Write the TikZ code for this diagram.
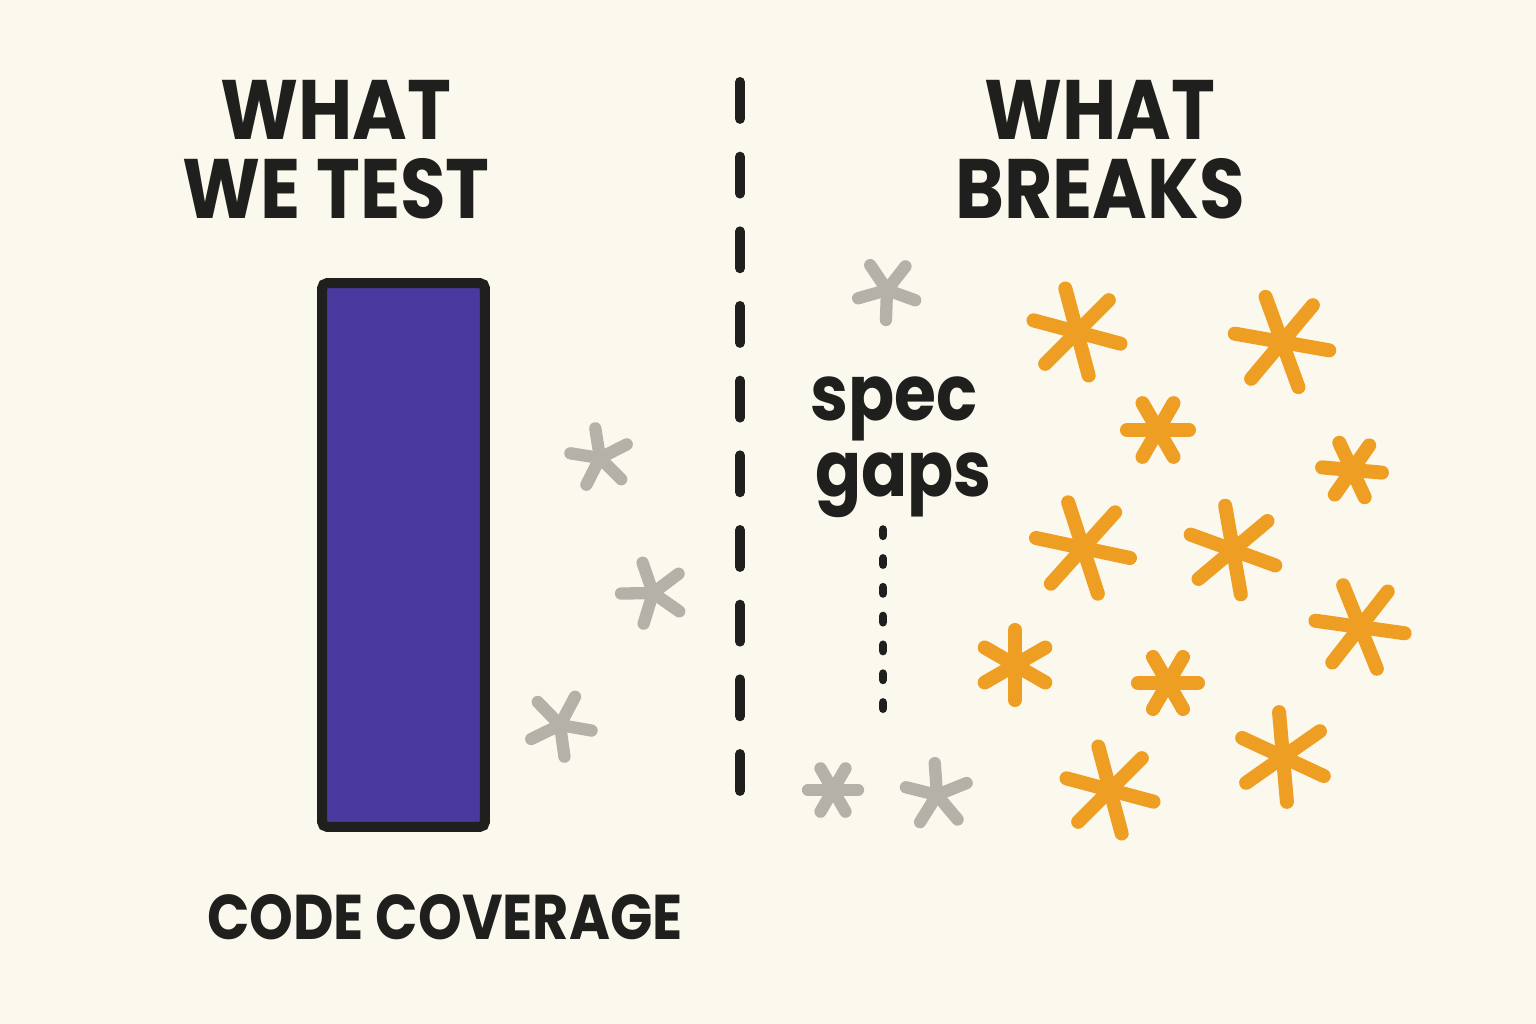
\documentclass[tikz,border=0pt]{standalone}
\usepackage{fontspec}
\setmainfont{Poppins}[FakeStretch=0.88]
\usepackage{xcolor}
\definecolor{paper}{HTML}{FBF8EE}
\definecolor{ink}{HTML}{1F201D}
\definecolor{barblue}{HTML}{4A3AA0}
\definecolor{sparkorange}{HTML}{EE9E22}
\definecolor{sparkgray}{HTML}{B3B1A8}

\begin{document}
\begin{tikzpicture}[x=0.02cm,y=-0.02cm,
    title/.style={font=\fontsize{48}{45}\selectfont\bfseries,text=ink,align=center,inner sep=0pt},
    note/.style={font=\fontsize{44}{44}\selectfont\bfseries,text=ink,inner sep=0pt,anchor=base west},
    spark orange/.style={draw=sparkorange,line width=8pt,line cap=round},
    spark gray/.style={draw=sparkgray,line width=7pt,line cap=round}]
  \fill[paper] (0,0) rectangle (1536,1024);
  \useasboundingbox (0,0) rectangle (1536,1024);
  % headings
  \node[title] (whattest) at (336,150) {WHAT\\WE TEST};
  \node[title] (whatbreaks) at (1100,150) {WHAT\\BREAKS};
  \node[title,font=\fontsize{36}{36}\selectfont\bfseries] (coverage) at (445,917) {CODE COVERAGE};
  % the bar
  \node[draw=ink,fill=barblue,line width=5.7pt,rounded corners=3pt,
        minimum width=3.26cm,minimum height=10.88cm,inner sep=0pt] (bar) at (403.5,555) {};
  % divider
  \coordinate (divtop) at (740,82);
  \coordinate (divbot) at (740,806);
  \draw[ink,line width=5.7pt,line cap=round,dash pattern=on 21pt off 21.5pt] (divtop) -- (divbot);
  % spec gaps
  \node[note] (spec) at (810,420) {spec};
  \node[note] (gaps) at (815,496) {gaps};
  \coordinate (gapend) at (883,722);
  \draw[ink,line width=5pt,line cap=round,dash pattern=on 3.5pt off 12.9pt]
    (gaps.south -| gapend) ++(0,12) -- (gapend);
  % grey sparks
  \foreach \sx/\sy/\sr/\sa/\sn in {887/290/30/20/5, 600/458/30/45/5, 653/593/32/35/5,
      560/725/32/10/5, 833/790/25/0/6, 937/795/32/50/5}
    \foreach \k in {1,...,\sn}
      \draw[spark gray] (\sx,\sy) -- ++({\sa+\k*360/\sn}:\sr);
  % orange sparks
  \foreach \sx/\sy/\sr/\sa/\sn in {1077/332/45/15/6, 1282/342/48/10/6, 1158/430/31/0/6,
      1352/470/30/5/6, 1083/548/48/12/6, 1233/550/45/20/6, 1360/627/45/8/6,
      1015/665/35/30/6, 1168/683/30/0/6, 1110/790/45/15/6, 1283/757/45/25/6}
    \foreach \k in {1,...,\sn}
      \draw[spark orange] (\sx,\sy) -- ++({\sa+\k*360/\sn}:\sr);
\end{tikzpicture}
\end{document}
